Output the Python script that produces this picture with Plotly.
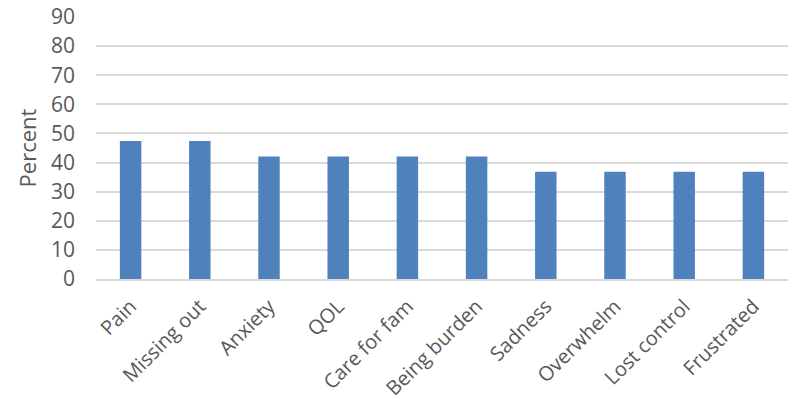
import plotly.graph_objects as go

# Share of respondents reporting each concern
categories = ["Pain", "Missing out", "Anxiety", "QOL", "Care for fam",
              "Being burden", "Sadness", "Overwhelm", "Lost control", "Frustrated"]
percent = [47.4, 47.4, 42.1, 42.1, 42.1, 42.1, 36.8, 36.8, 36.8, 36.8]
y_ticks = [0, 10, 20, 30, 40, 50, 60, 70, 80, 90]

text_color = "#595959"
font_family = "Open Sans, Liberation Sans, sans-serif"

fig = go.Figure(
    go.Bar(
        x=categories,
        y=percent,
        marker=dict(color="#4F81BD", line=dict(width=0)),
        width=0.31,
    )
)

fig.update_layout(
    width=795,
    height=404,
    margin=dict(l=96, r=7, t=17, b=125),
    paper_bgcolor="white",
    plot_bgcolor="white",
    showlegend=False,
    font=dict(family=font_family, size=20, color=text_color),
)

fig.update_xaxes(
    automargin=False,
    tickangle=-45,
    showgrid=False,
    showline=True,
    linecolor="#D9D9D9",
    linewidth=1.5,
    ticks="",
    ticklabelstandoff=6,
    tickfont=dict(size=20, color=text_color),
)

fig.update_yaxes(
    automargin=False,
    range=[0, 90],
    tickvals=y_ticks,
    showgrid=True,
    gridcolor="#D9D9D9",
    gridwidth=1.5,
    zeroline=False,
    showline=False,
    ticks="",
    ticklabelstandoff=20,
    tickfont=dict(size=21, color=text_color),
    title=dict(text="Percent", font=dict(size=22, color=text_color), standoff=8),
)

fig.write_html("out.html")
